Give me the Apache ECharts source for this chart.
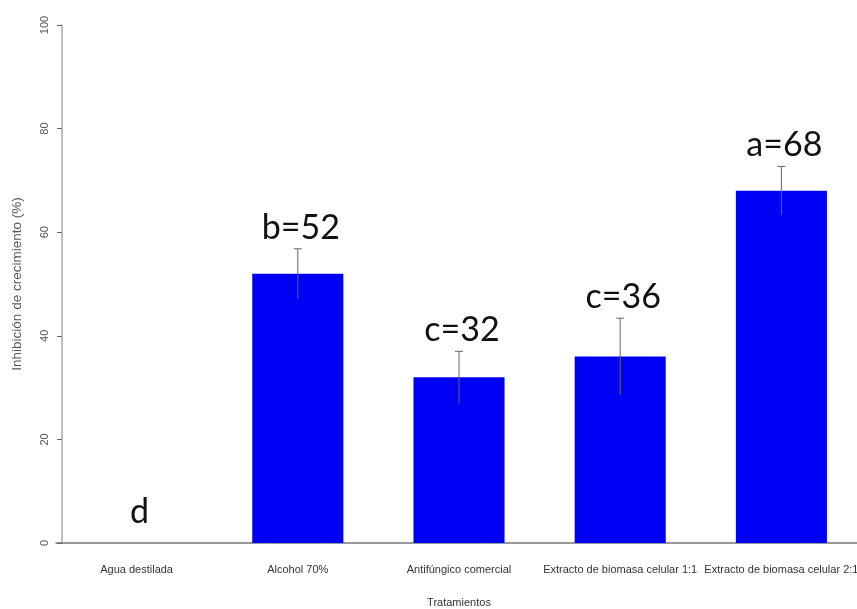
<!DOCTYPE html>
<html>
<head>
<meta charset="utf-8">
<script src="https://cdn.jsdelivr.net/npm/echarts@6/dist/echarts.min.js"></script>
<style>
  html, body { margin: 0; padding: 0; background: #fff; }
  #chart { width: 857px; height: 609px; }
</style>
</head>
<body>
<div id="chart"></div>
<script>
// Treatments and their mean growth inhibition (%) with error (±)
const categories = [
  'Agua destilada',
  'Alcohol 70%',
  'Antifúngico comercial',
  'Extracto de biomasa celular 1:1',
  'Extracto de biomasa celular 2:1'
];
const means = [0, 52, 32, 36, 68];
const errors = [0, 4.8, 5, 7.4, 4.7];
const groupLetters = ['d', 'b', 'c', 'c', 'a'];
const yTicks = [0, 20, 40, 60, 80, 100];

const chart = echarts.init(document.getElementById('chart'));

const errorData = means.map((m, i) => [i, m, errors[i]]);
const labelFont = 'Liberation Sans, Arial, sans-serif';

chart.setOption({
  animation: false,
  backgroundColor: '#ffffff',
  grid: {
    left: 56, top: 25, width: 806, bottom: 66,
    containLabel: false,
    outerBoundsMode: 'none'
  },
  xAxis: {
    type: 'category',
    data: categories,
    name: 'Tratamientos',
    nameLocation: 'middle',
    nameGap: 54,
    nameTextStyle: { fontFamily: labelFont, fontSize: 11, color: '#333' },
    axisLine: { lineStyle: { color: '#777', width: 1.5 } },
    axisTick: { show: false },
    axisLabel: {
      margin: 21,
      fontFamily: labelFont,
      fontSize: 11,
      color: '#333',
      interval: 0
    }
  },
  yAxis: {
    type: 'value',
    min: yTicks[0],
    max: yTicks[yTicks.length - 1],
    interval: 20,
    offset: -6,
    name: 'Inhibición de crecimiento (%)',
    nameLocation: 'middle',
    nameRotate: 90,
    nameGap: 38,
    nameTextStyle: { fontFamily: labelFont, fontSize: 13.5, color: '#555' },
    axisLine: { show: true, lineStyle: { color: '#aaa', width: 1.5 } },
    axisTick: { show: true, length: 5, lineStyle: { color: '#666' } },
    splitLine: { show: false },
    axisLabel: {
      rotate: 90,
      margin: 12,
      fontFamily: labelFont,
      fontSize: 11,
      color: '#555'
    }
  },
  series: [
    {
      type: 'bar',
      data: means,
      barWidth: '56.5%',
      itemStyle: { color: '#0000f5' }
    },
    {
      type: 'custom',
      data: errorData,
      z: 10,
      renderItem: function (params, api) {
        const i = api.value(0);
        const m = api.value(1);
        const e = api.value(2);
        const top = api.coord([i, m + e]);
        const bottom = api.coord([i, m - e]);
        const cap = 4;
        const letter = groupLetters[params.dataIndex];
        const text = m > 0 ? letter + '=' + m : letter;
        const children = [];
        if (e > 0) {
          children.push(
            { type: 'line', shape: { x1: top[0], y1: top[1], x2: bottom[0], y2: bottom[1] }, style: { stroke: '#666', lineWidth: 1 } },
            { type: 'line', shape: { x1: top[0] - cap, y1: top[1], x2: top[0] + cap, y2: top[1] }, style: { stroke: '#666', lineWidth: 1 } }
          );
        }
        children.push({
          type: 'text',
          x: top[0] + 3,
          y: top[1] - (m > 0 ? 4 : 14),
          style: {
            text: text,
            fill: '#111',
            font: '34px Lato, "Open Sans", sans-serif',
            align: 'center',
            verticalAlign: 'bottom'
          }
        });
        return { type: 'group', children: children };
      }
    }
  ]
});
</script>
</body>
</html>
